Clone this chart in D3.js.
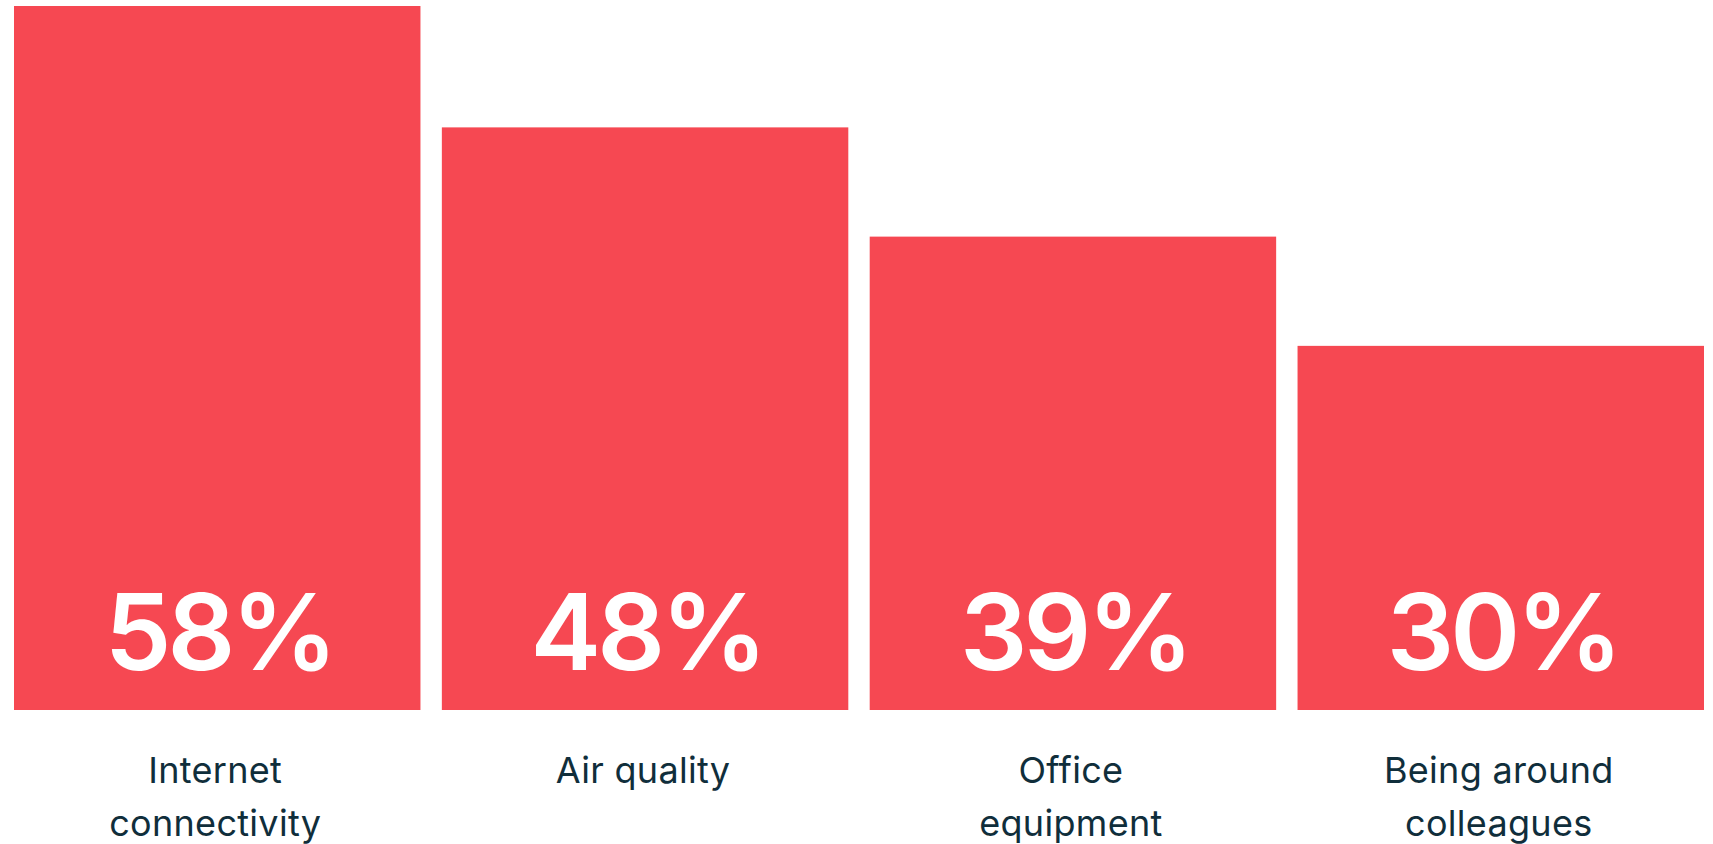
<!DOCTYPE html>
<html>
<head>
<meta charset="utf-8">
<script src="https://cdn.jsdelivr.net/npm/d3@7"></script>
<style>
  html, body { margin: 0; padding: 0; background: #fff; }
  svg { display: block; }
</style>
</head>
<body>
<div id="chart"></div>
<script>
// ================== DATOS ==================
const categories = ["Internet connectivity", "Air quality", "Office equipment", "Being around colleagues"];
const labelLines = [["Internet", "connectivity"], ["Air quality"], ["Office", "equipment"], ["Being around", "colleagues"]];
const values = [58, 48, 39, 30];

// ================== CONFIGURACIÓN D3 ==================
const svgWidth = 1713;
const svgHeight = 844;
const margin = { top: 6, right: 9, bottom: 134, left: 14 };

const width = svgWidth - margin.left - margin.right;
const height = svgHeight - margin.top - margin.bottom;

const barColor = "#f64852";
const textColor = "#102e3b";

const svg = d3.select("#chart")
  .append("svg")
  .attr("width", svgWidth)
  .attr("height", svgHeight)
  .append("g")
  .attr("transform", `translate(${margin.left},${margin.top})`);

const xScale = d3.scaleBand()
  .domain(categories)
  .range([0, width])
  .paddingInner(0.05)
  .paddingOuter(0);

const yScale = d3.scaleLinear()
  .domain([0, d3.max(values)])
  .range([height, 0]);

// Barras
svg.selectAll(".bar")
  .data(values)
  .enter()
  .append("rect")
  .attr("class", "bar")
  .attr("x", (d, i) => xScale(categories[i]))
  .attr("y", d => yScale(d))
  .attr("width", xScale.bandwidth())
  .attr("height", d => height - yScale(d))
  .attr("fill", barColor);

// Valores dentro de las barras
svg.selectAll(".value")
  .data(values)
  .enter()
  .append("text")
  .attr("class", "value")
  .attr("x", (d, i) => xScale(categories[i]) + xScale.bandwidth() / 2 + 2)
  .attr("y", height - 40)
  .attr("text-anchor", "middle")
  .attr("fill", "#fff")
  .style("font-family", "Inter, 'Noto Sans', sans-serif")
  .style("font-weight", 600)
  .style("font-size", "106px")
  .style("letter-spacing", "-4px")
  .text(d => d + "%");

// Etiquetas de categoría (eje x sin líneas)
const labels = svg.selectAll(".label")
  .data(categories)
  .enter()
  .append("text")
  .attr("class", "label")
  .attr("x", d => xScale(d) + xScale.bandwidth() / 2 - 2)
  .attr("y", height + 73)
  .attr("text-anchor", "middle")
  .attr("fill", textColor)
  .style("font-family", "Inter, 'Noto Sans', sans-serif")
  .style("font-weight", 400)
  .style("font-size", "36px")
  .style("letter-spacing", "0.3px");

labels.selectAll("tspan")
  .data((d, i) => labelLines[i])
  .enter()
  .append("tspan")
  .attr("x", function () { return d3.select(this.parentNode).attr("x"); })
  .attr("dy", (d, j) => j === 0 ? 0 : 53)
  .text(d => d);
</script>
</body>
</html>
